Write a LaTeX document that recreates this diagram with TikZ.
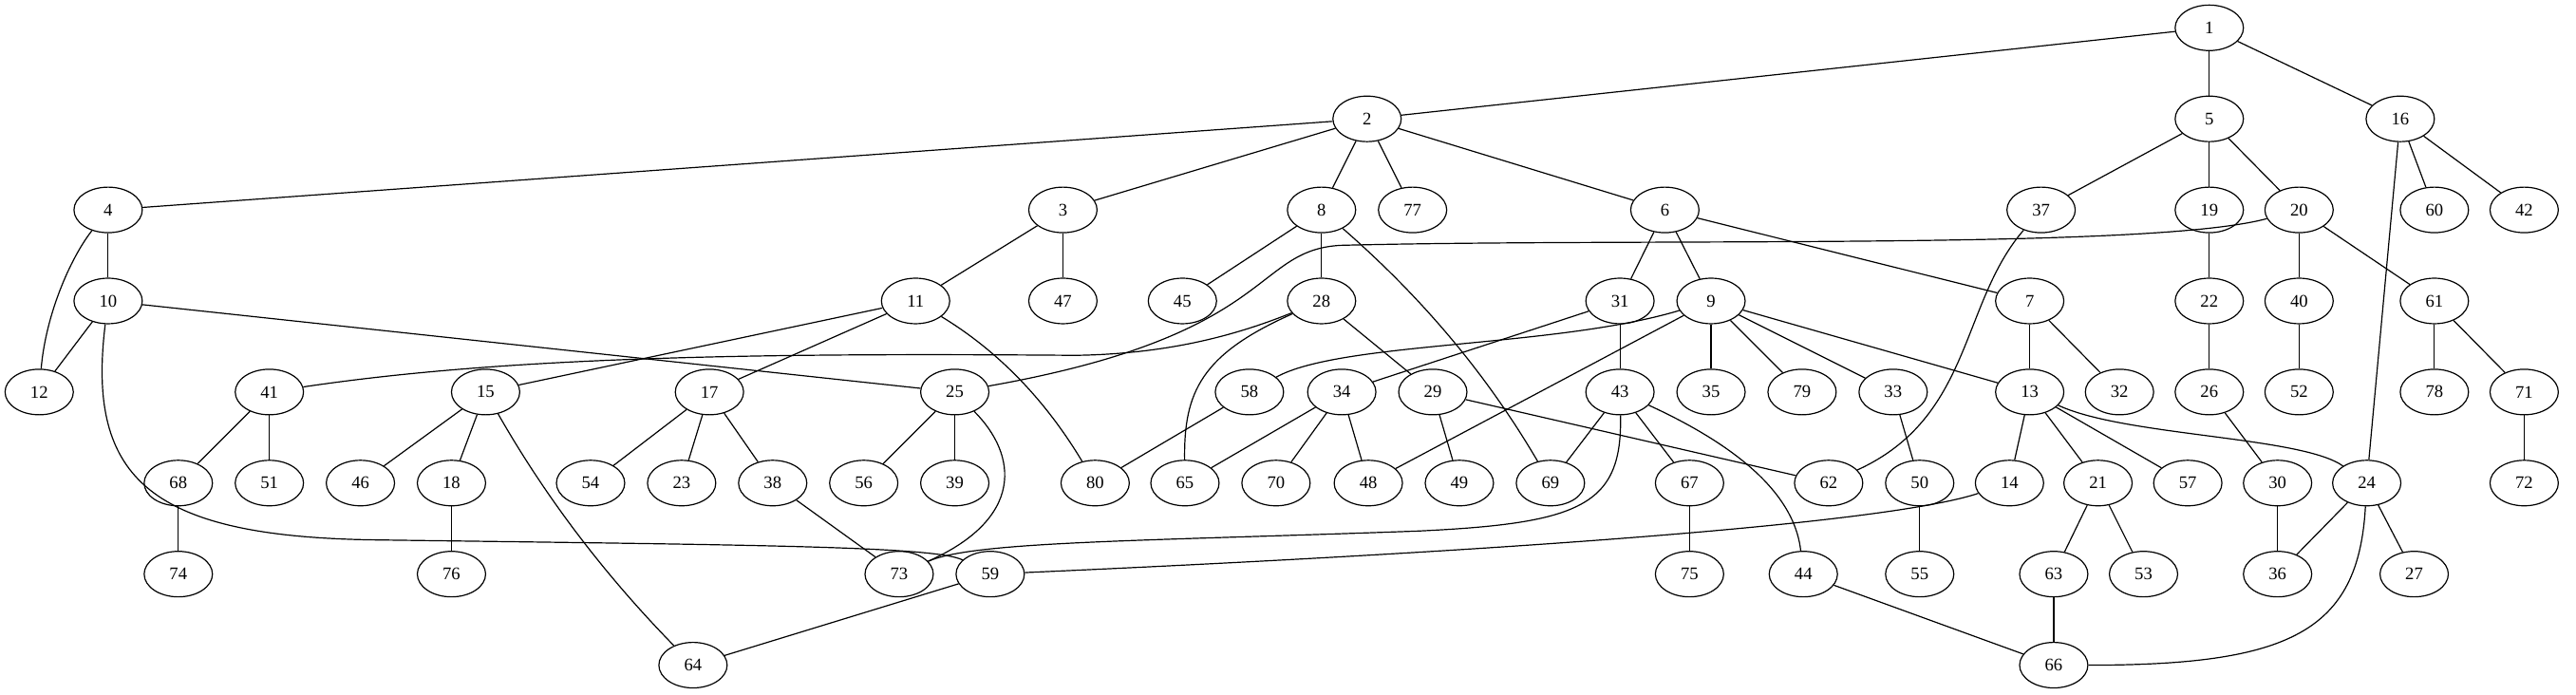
\documentclass[tikz,border=0pt]{standalone}
\usepackage{fontspec}
\setmainfont{Liberation Serif}
\usetikzlibrary{shapes.geometric}

\begin{document}
\begin{tikzpicture}[x=1pt,y=-1pt,line width=0.9pt,
  vtx/.style={ellipse,draw,minimum width=54pt,minimum height=36pt,inner sep=0pt,
    font=\fontsize{14}{16}\selectfont}]

\useasboundingbox (0,0) rectangle (2037,549);

\node(v1) at (1747,22)[vtx]{1};
\node(v2) at (1081,94)[vtx]{2};
\node(v5) at (1747,94)[vtx]{5};
\node(v16) at (1898,94)[vtx]{16};
\node(v4) at (85.5,166)[vtx]{4};
\node(v3) at (840.5,166)[vtx]{3};
\node(v8) at (1045,166)[vtx]{8};
\node(v77) at (1117,166)[vtx]{77};
\node(v6) at (1316.5,166)[vtx]{6};
\node(v37) at (1614,166)[vtx]{37};
\node(v19) at (1747,166)[vtx]{19};
\node(v20) at (1818,166)[vtx]{20};
\node(v60) at (1925,166)[vtx]{60};
\node(v42) at (1996,166)[vtx]{42};
\node(v10) at (85.5,238)[vtx]{10};
\node(v11) at (724,238)[vtx]{11};
\node(v47) at (840.5,238)[vtx]{47};
\node(v45) at (935,238)[vtx]{45};
\node(v28) at (1045,238)[vtx]{28};
\node(v31) at (1281,238)[vtx]{31};
\node(v9) at (1353,238)[vtx]{9};
\node(v7) at (1605,238)[vtx]{7};
\node(v22) at (1747,238)[vtx]{22};
\node(v40) at (1818,238)[vtx]{40};
\node(v61) at (1925,238)[vtx]{61};
\node(v12) at (31,310)[vtx]{12};
\node(v41) at (213,310)[vtx]{41};
\node(v15) at (384,310)[vtx]{15};
\node(v17) at (561,310)[vtx]{17};
\node(v25) at (755,310)[vtx]{25};
\node(v58) at (988,310)[vtx]{58};
\node(v34) at (1061,310)[vtx]{34};
\node(v29) at (1133,310)[vtx]{29};
\node(v43) at (1281,310)[vtx]{43};
\node(v35) at (1353,310)[vtx]{35};
\node(v79) at (1425,310)[vtx]{79};
\node(v33) at (1497,310)[vtx]{33};
\node(v13) at (1605,310)[vtx]{13};
\node(v32) at (1676,310)[vtx]{32};
\node(v26) at (1747,310)[vtx]{26};
\node(v52) at (1818,310)[vtx]{52};
\node(v78) at (1925,310)[vtx]{78};
\node(v71) at (1996,310)[vtx]{71};
\node(v68) at (141,382)[vtx]{68};
\node(v51) at (213,382)[vtx]{51};
\node(v46) at (285,382)[vtx]{46};
\node(v18) at (357,382)[vtx]{18};
\node(v54) at (467,382)[vtx]{54};
\node(v23) at (539,382)[vtx]{23};
\node(v38) at (611,382)[vtx]{38};
\node(v56) at (683,382)[vtx]{56};
\node(v39) at (755,382)[vtx]{39};
\node(v80) at (866,382)[vtx]{80};
\node(v65) at (937,382)[vtx]{65};
\node(v70) at (1009,382)[vtx]{70};
\node(v48) at (1082,382)[vtx]{48};
\node(v49) at (1154,382)[vtx]{49};
\node(v69) at (1226,382)[vtx]{69};
\node(v67) at (1336,382)[vtx]{67};
\node(v62) at (1446,382)[vtx]{62};
\node(v50) at (1518,382)[vtx]{50};
\node(v14) at (1589,382)[vtx]{14};
\node(v21) at (1659,382)[vtx]{21};
\node(v57) at (1730,382)[vtx]{57};
\node(v30) at (1801,382)[vtx]{30};
\node(v24) at (1871.5,382)[vtx]{24};
\node(v72) at (1996,382)[vtx]{72};
\node(v74) at (141,454)[vtx]{74};
\node(v76) at (357,454)[vtx]{76};
\node(v73) at (711,454)[vtx]{73};
\node(v59) at (783,454)[vtx]{59};
\node(v75) at (1336,454)[vtx]{75};
\node(v44) at (1426,454)[vtx]{44};
\node(v55) at (1518,454)[vtx]{55};
\node(v63) at (1624,454)[vtx]{63};
\node(v53) at (1695,454)[vtx]{53};
\node(v36) at (1801,454)[vtx]{36};
\node(v27) at (1909,454)[vtx]{27};
\node(v64) at (548,526)[vtx]{64};
\node(v66) at (1624,526)[vtx]{66};

\draw (v1) -- (v2);
\draw (v1) -- (v5);
\draw (v1) -- (v16);
\draw (v2) -- (v4);
\draw (v2) -- (v3);
\draw (v2) -- (v8);
\draw (v2) -- (v77);
\draw (v2) -- (v6);
\draw (v5) -- (v37);
\draw (v5) -- (v19);
\draw (v5) -- (v20);
\draw (v16) -- (v60);
\draw (v16) -- (v42);
\draw (v16) -- (v24);
\draw (v4) -- (v10);
\draw (v4) .. controls (55,205) and (36,250) .. (v12);
\draw (v10) -- (v12);
\draw (v10) -- (v25);
\draw (v10) .. controls (68,380) and (120,425) .. (300,427) .. controls (600,431) and (740,432) .. (v59);
\draw (v3) -- (v11);
\draw (v3) -- (v47);
\draw (v8) -- (v45);
\draw (v8) -- (v28);
\draw (v8) .. controls (1124,235) and (1175,295) .. (v69);
\draw (v6) -- (v31);
\draw (v6) -- (v9);
\draw (v6) -- (v7);
\draw (v20) .. controls (1700,198) and (1300,188) .. (1060,194) .. controls (990,198) and (1010,265) .. (v25);
\draw (v20) -- (v40);
\draw (v20) -- (v61);
\draw (v37) .. controls (1550,240) and (1560,330) .. (v62);
\draw (v19) -- (v22);
\draw (v11) -- (v15);
\draw (v11) -- (v17);
\draw (v11) .. controls (790,278) and (827,317) .. (v80);
\draw (v28) .. controls (985,262) and (930,280) .. (850,281) .. controls (600,279) and (400,282) .. (v41);
\draw (v28) .. controls (950,280) and (936,310) .. (v65);
\draw (v28) -- (v29);
\draw (v31) -- (v34);
\draw (v31) -- (v43);
\draw (v9) .. controls (1230,275) and (1060,270) .. (v58);
\draw (v9) -- (v48);
\draw (v9) -- (v35);
\draw (v9) -- (v79);
\draw (v9) -- (v33);
\draw (v9) -- (v13);
\draw (v7) -- (v13);
\draw (v7) -- (v32);
\draw (v22) -- (v26);
\draw (v40) -- (v52);
\draw (v61) -- (v78);
\draw (v61) -- (v71);
\draw (v41) -- (v68);
\draw (v41) -- (v51);
\draw (v15) -- (v46);
\draw (v15) -- (v18);
\draw (v15) .. controls (432.5,395) and (479.5,456) .. (v64);
\draw (v17) -- (v54);
\draw (v17) -- (v23);
\draw (v17) -- (v38);
\draw (v25) -- (v56);
\draw (v25) -- (v39);
\draw (v25) .. controls (805,360) and (810,410) .. (v73);
\draw (v58) -- (v80);
\draw (v34) -- (v65);
\draw (v34) -- (v70);
\draw (v34) -- (v48);
\draw (v29) -- (v49);
\draw (v29) -- (v62);
\draw (v43) -- (v69);
\draw (v43) -- (v67);
\draw (v43) .. controls (1390,360) and (1420,400) .. (v44);
\draw (v43) .. controls (1283,400) and (1250,414) .. (1120,420) .. controls (900,428) and (770,428) .. (v73);
\draw (v33) -- (v50);
\draw (v13) -- (v14);
\draw (v13) -- (v21);
\draw (v13) -- (v57);
\draw (v13) .. controls (1680,345) and (1820,345) .. (v24);
\draw (v26) -- (v30);
\draw (v71) -- (v72);
\draw (v68) -- (v74);
\draw (v18) -- (v76);
\draw (v38) -- (v73);
\draw (v50) -- (v55);
\draw (v14) .. controls (1480,418) and (1100,440) .. (v59);
\draw (v21) -- (v63);
\draw (v21) -- (v53);
\draw (v30) -- (v36);
\draw (v24) -- (v36);
\draw (v24) -- (v27);
\draw (v24) .. controls (1865,500) and (1810,526) .. (v66);
\draw (v67) -- (v75);
\draw (v44) -- (v66);
\draw (v59) -- (v64);
\draw (v63) -- (v66);

\end{tikzpicture}
\end{document}
